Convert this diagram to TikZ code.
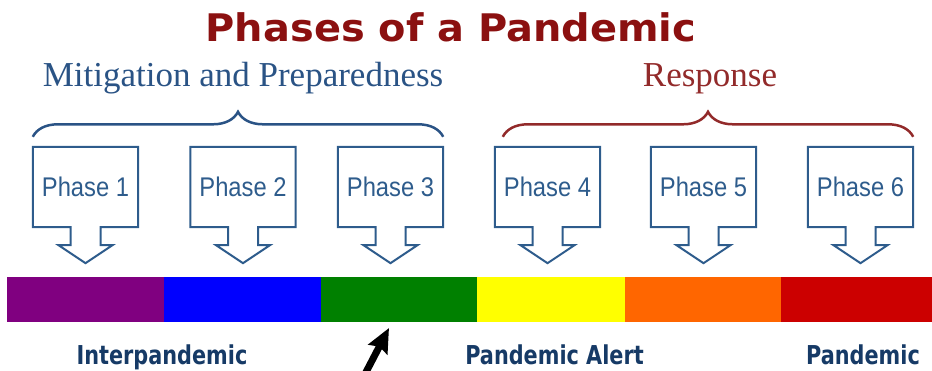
\documentclass[tikz,border=0pt]{standalone}
\usepackage{xcolor}
\usepackage{fontspec}
\usepackage{tikz}
\usetikzlibrary{arrows.meta, positioning, decorations.pathreplacing}

\newfontfamily\titlefont{DejaVu Sans}[FakeStretch=1.05]
\newfontfamily\headfont{Liberation Serif}
\newfontfamily\boxfont{Liberation Sans}[FakeStretch=0.88]
\newfontfamily\labfont{DejaVu Sans}[FakeStretch=0.8]

\definecolor{titlered}{HTML}{8B1010}
\definecolor{resred}{HTML}{922A2A}
\definecolor{mitblue}{HTML}{2A5385}
\definecolor{boxblue}{HTML}{2E5C8C}
\definecolor{labnavy}{HTML}{163A66}
\definecolor{barpurple}{HTML}{800080}
\definecolor{barblue}{HTML}{0000FF}
\definecolor{bargreen}{HTML}{008000}
\definecolor{baryellow}{HTML}{FFFF00}
\definecolor{barorange}{HTML}{FF6600}
\definecolor{barred}{HTML}{CC0000}

\begin{document}
\begin{tikzpicture}[x=1pt, y=-1pt,
  phase/.style={minimum width=105pt, minimum height=80pt, inner sep=0pt,
                text=boxblue, font=\boxfont\fontsize{27}{27}\selectfont},
  callout/.style={draw=boxblue, line width=2pt},
  brc/.style={decorate, decoration={brace, amplitude=25pt}, line width=2.5pt},
  grp/.style={font=\headfont\fontsize{35}{35}\selectfont, anchor=base},
  lab/.style={font=\labfont\bfseries\fontsize{26}{26}\selectfont,
              text=labnavy, anchor=base},
  pointer/.style={-{Stealth[length=24pt, width=21pt, inset=3pt]}, line width=7pt}
]
  \useasboundingbox (0,0) rectangle (932,371);

  \node[font=\titlefont\bfseries\fontsize{38}{38}\selectfont, text=titlered,
        anchor=base] (title) at (451,42) {Phases of a Pandemic};
  \node[grp, text=mitblue] (mit)  at (243,87) {Mitigation and Preparedness};
  \node[grp, text=resred]  (resp) at (710,87) {Response};

  \node[phase] (p1) at (85.5,187)  {Phase 1};
  \node[phase] (p2) at (243,187)   {Phase 2};
  \node[phase] (p3) at (390.5,187) {Phase 3};
  \node[phase] (p4) at (547.5,187) {Phase 4};
  \node[phase] (p5) at (703.5,187) {Phase 5};
  \node[phase] (p6) at (860.5,187) {Phase 6};

  % box with a downward arrow under it
  \foreach \p in {p1,p2,p3,p4,p5,p6}
    \draw[callout] (\p.south west) -- (\p.north west) -- (\p.north east)
      -- (\p.south east) -- ([xshift=15pt]\p.south) -- ++(0,18) -- ++(12,0)
      -- ++(-27,18) -- ++(-27,-18) -- ++(12,0) -- ++(0,-18) -- cycle;

  \draw[brc, draw=mitblue] ([yshift=10pt]p1.north west) -- ([yshift=10pt]p3.north east);
  \draw[brc, draw=resred]  ([xshift=8pt, yshift=10pt]p4.north west) -- ([yshift=10pt]p6.north east);

  % colour bar
  \foreach \xa/\xb/\col in {7/164/barpurple, 164/321/barblue, 321/477/bargreen,
                            477/625/baryellow, 625/781/barorange, 781/932/barred}
    \fill[\col] (\xa,277) rectangle (\xb,322);

  \node[lab] (inter) at (162,364)   {Interpandemic};
  \node[lab] (alert) at (554.5,364) {Pandemic Alert};
  \node[lab] (pand)  at (863,364)   {Pandemic};

  \coordinate (tail) at (364,376);
  \coordinate (tip)  at (389,328);
  \draw[pointer] (tail) -- (tip);
\end{tikzpicture}
\end{document}
